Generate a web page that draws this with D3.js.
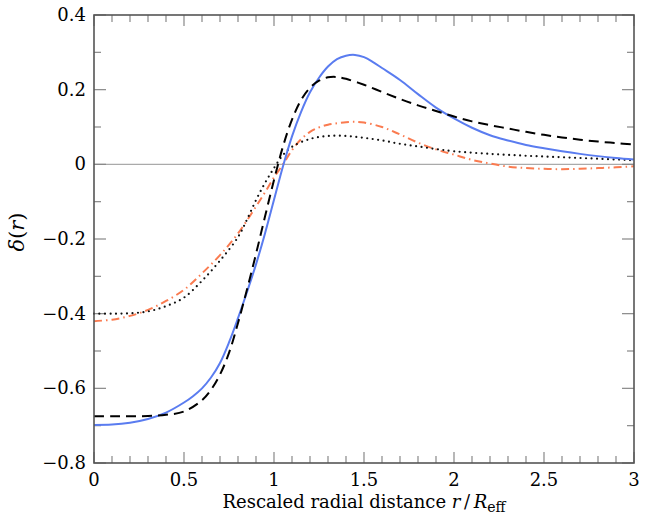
<!DOCTYPE html>
<html>
<head>
<meta charset="utf-8">
<script src="https://cdn.jsdelivr.net/npm/d3@7"></script>
<style>
  body { margin: 0; background: #fff; }
</style>
</head>
<body>
<div id="chart-area"></div>
<script>
// radial positions (r / R_eff) and delta(r) for each curve
const rBlue = [0,0.1,0.2,0.3,0.4,0.5,0.55,0.6,0.65,0.7,0.75,0.8,0.85,0.9,0.95,1.0,1.05,1.1,1.15,1.2,1.25,1.3,1.35,1.4,1.45,1.5,1.55,1.6,1.7,1.8,1.9,2.0,2.1,2.2,2.3,2.4,2.5,2.6,2.7,2.8,2.9,3.0]
const deltaBlue = [-0.698,-0.697,-0.692,-0.682,-0.665,-0.638,-0.621,-0.6,-0.571,-0.532,-0.477,-0.412,-0.342,-0.268,-0.185,-0.095,-0.005,0.075,0.14,0.193,0.232,0.262,0.282,0.291,0.293,0.287,0.274,0.258,0.226,0.188,0.152,0.123,0.098,0.078,0.064,0.052,0.043,0.035,0.028,0.022,0.017,0.013]

const rDash = [0,0.1,0.2,0.3,0.4,0.5,0.6,0.65,0.7,0.75,0.8,0.85,0.9,0.95,1.0,1.05,1.1,1.15,1.2,1.25,1.3,1.35,1.4,1.5,1.6,1.7,1.8,1.9,2.0,2.1,2.2,2.3,2.4,2.5,2.6,2.7,2.8,2.9,3.0]
const deltaDash = [-0.675,-0.675,-0.675,-0.674,-0.671,-0.662,-0.632,-0.604,-0.563,-0.505,-0.425,-0.335,-0.24,-0.14,-0.042,0.048,0.12,0.172,0.205,0.224,0.233,0.234,0.229,0.213,0.194,0.175,0.158,0.143,0.128,0.115,0.105,0.096,0.087,0.079,0.072,0.066,0.061,0.057,0.053]

const rOrange = [0,0.1,0.2,0.3,0.4,0.5,0.6,0.7,0.8,0.9,0.95,1.0,1.05,1.1,1.15,1.2,1.25,1.3,1.35,1.4,1.45,1.5,1.6,1.7,1.8,1.9,2.0,2.1,2.2,2.3,2.4,2.5,2.6,2.7,2.8,2.9,3.0]
const deltaOrange = [-0.42,-0.416,-0.406,-0.39,-0.366,-0.336,-0.292,-0.243,-0.185,-0.113,-0.075,-0.035,0.0,0.038,0.067,0.087,0.099,0.106,0.11,0.113,0.114,0.112,0.1,0.08,0.058,0.04,0.026,0.012,0.002,-0.006,-0.01,-0.012,-0.013,-0.012,-0.01,-0.008,-0.005]

const rDot = [0,0.1,0.2,0.3,0.4,0.5,0.6,0.7,0.8,0.85,0.9,0.95,1.0,1.05,1.1,1.2,1.3,1.4,1.5,1.6,1.7,1.8,1.9,2.0,2.2,2.4,2.6,2.8,3.0]
const deltaDot = [-0.40,-0.40,-0.399,-0.394,-0.38,-0.357,-0.312,-0.258,-0.195,-0.148,-0.096,-0.05,-0.01,0.025,0.047,0.068,0.076,0.076,0.071,0.064,0.055,0.048,0.041,0.035,0.028,0.023,0.019,0.015,0.011]

const xTicks = [0,0.5,1,1.5,2,2.5,3]
const yTicks = [0.4,0.2,0,-0.2,-0.4,-0.6,-0.8]

const MARGIN = {LEFT: 94, RIGHT: 13, TOP: 15, BOTTOM: 67}
const W = 647, H = 530
const WIDTH = W - MARGIN.LEFT - MARGIN.RIGHT
const HEIGHT = H - MARGIN.TOP - MARGIN.BOTTOM
const FONT = "DejaVu Serif"

const svg = d3.select("#chart-area").append("svg")
    .attr("width", W)
    .attr("height", H)

const g = svg.append("g")
    .attr("transform", `translate(${MARGIN.LEFT},${MARGIN.TOP})`)

const x = d3.scaleLinear().domain([0, 3]).range([0, WIDTH])
const y = d3.scaleLinear().domain([-0.8, 0.4]).range([HEIGHT, 0])

const fmt = d => d3.format("")(d).replace("-", "\u2212")

// zero line
g.append("line")
    .attr("x1", 0).attr("x2", WIDTH)
    .attr("y1", y(0)).attr("y2", y(0))
    .attr("stroke", "#aaa").attr("stroke-width", 1.2)

// ticks, inward on all four sides
const minorX = d3.range(0, 31).map(i => i / 10)
const minorY = d3.range(-8, 5).map(i => i / 10)
const isMajor = v => Math.abs(v * 2 - Math.round(v * 2)) < 1e-6
const isMajorY = v => Math.abs(v * 5 - Math.round(v * 5)) < 1e-6

const ticks = g.append("g").attr("stroke", "#888").attr("stroke-width", 1.2)
minorX.forEach(v => {
    const len = isMajor(v) ? 11 : 7
    ticks.append("line").attr("x1", x(v)).attr("x2", x(v)).attr("y1", HEIGHT).attr("y2", HEIGHT - len)
    ticks.append("line").attr("x1", x(v)).attr("x2", x(v)).attr("y1", 0).attr("y2", len)
})
minorY.forEach(v => {
    const len = isMajorY(v) ? 12 : 7
    ticks.append("line").attr("x1", 0).attr("x2", len).attr("y1", y(v)).attr("y2", y(v))
    ticks.append("line").attr("x1", WIDTH).attr("x2", WIDTH - len).attr("y1", y(v)).attr("y2", y(v))
})

// tick labels
g.selectAll(".xl").data(xTicks).enter().append("text")
    .style("font-family", FONT)
    .attr("x", d => x(d))
    .attr("y", HEIGHT + 23)
    .attr("text-anchor", "middle")
    .attr("font-size", 18)
    .text(fmt)

g.selectAll(".yl").data(yTicks).enter().append("text")
    .style("font-family", FONT)
    .attr("x", -8)
    .attr("y", d => y(d) + 6)
    .attr("text-anchor", "end")
    .attr("font-size", 18)
    .text(fmt)

// curves
const line = d3.line().x(d => x(d[0])).y(d => y(d[1])).curve(d3.curveCatmullRom.alpha(0.5))
const zip = (a, b) => a.map((v, i) => [v, b[i]])

g.append("path").datum(zip(rOrange, deltaOrange))
    .attr("d", line).attr("fill", "none")
    .attr("stroke", "#fa7b50").attr("stroke-width", 2)
    .attr("stroke-dasharray", "8,4,1.5,4")

g.append("path").datum(zip(rDot, deltaDot))
    .attr("d", line).attr("fill", "none")
    .attr("stroke", "#111").attr("stroke-width", 2.2)
    .attr("stroke-linecap", "round")
    .attr("stroke-dasharray", "0,5.5")

g.append("path").datum(zip(rBlue, deltaBlue))
    .attr("d", line).attr("fill", "none")
    .attr("stroke", "#5a7cf0").attr("stroke-width", 2)

g.append("path").datum(zip(rDash, deltaDash))
    .attr("d", line).attr("fill", "none")
    .attr("stroke", "#000").attr("stroke-width", 2)
    .attr("stroke-dasharray", "10,6")

// frame
g.append("rect")
    .attr("width", WIDTH).attr("height", HEIGHT)
    .attr("fill", "none").attr("stroke", "#555").attr("stroke-width", 1.6)

// axis titles
const xt = svg.append("text")
    .style("font-family", FONT)
    .attr("x", MARGIN.LEFT + WIDTH / 2)
    .attr("y", H - 22)
    .attr("text-anchor", "middle")
    .attr("font-size", 18)
xt.append("tspan").text("Rescaled radial distance ")
xt.append("tspan").attr("font-style", "italic").text("r")
xt.append("tspan").text("\u2009/\u2009")
xt.append("tspan").attr("font-style", "italic").text("R")
xt.append("tspan").attr("font-size", 14).attr("dy", 4).text("eff")

const yt = svg.append("text")
    .style("font-family", FONT)
    .attr("transform", `translate(24,${MARGIN.TOP + HEIGHT / 2 - 7}) rotate(-90)`)
    .attr("text-anchor", "middle")
    .attr("font-size", 21)
yt.append("tspan").attr("font-style", "italic").text("δ")
yt.append("tspan").text("(")
yt.append("tspan").attr("font-style", "italic").text("r")
yt.append("tspan").text(")")
</script>
</body>
</html>
